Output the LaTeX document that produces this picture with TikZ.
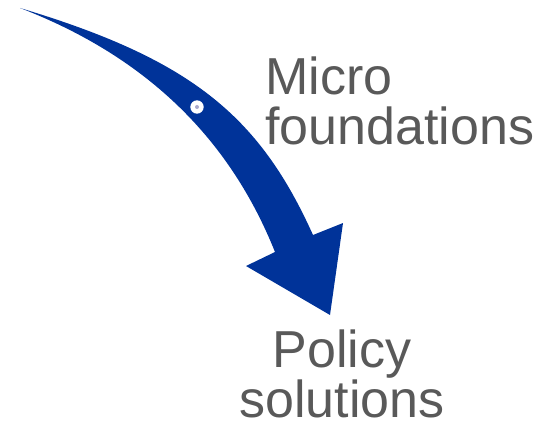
\documentclass[tikz,border=0pt]{standalone}
\usepackage{fontspec}
\setmainfont{Liberation Sans}
\definecolor{arrowblue}{HTML}{003399}
\definecolor{labelgray}{HTML}{595959}
\definecolor{dotgray}{HTML}{A8A8CC}

\begin{document}
\begin{tikzpicture}[x=1pt,y=-1pt,
  headline/.style={text=labelgray,inner sep=0pt,font=\fontsize{52}{50}\selectfont}]
\useasboundingbox (0,0) rectangle (560,425);

\coordinate (tail) at (20,8);
\coordinate (rnotch) at (313,235);
\coordinate (rcorner) at (343,223);
\coordinate (tip) at (330,315);
\coordinate (lcorner) at (246,266);
\coordinate (lnotch) at (275,252);

\fill[arrowblue] (tail) .. controls (190,59) and (259,115) .. (rnotch) -- (rcorner) -- (tip)
  -- (lcorner) -- (lnotch) .. controls (231,142) and (150,58) .. (tail) -- cycle;
\fill[white] (197,107) circle (6.7);
\fill[dotgray] (197,107) circle (2);

\node[headline,anchor=base west,align=left] (micro) at (265,145) {Micro\\foundations};
\node[headline,anchor=base,align=center] (policy) at (342,417) {Policy\\solutions};
\end{tikzpicture}
\end{document}
